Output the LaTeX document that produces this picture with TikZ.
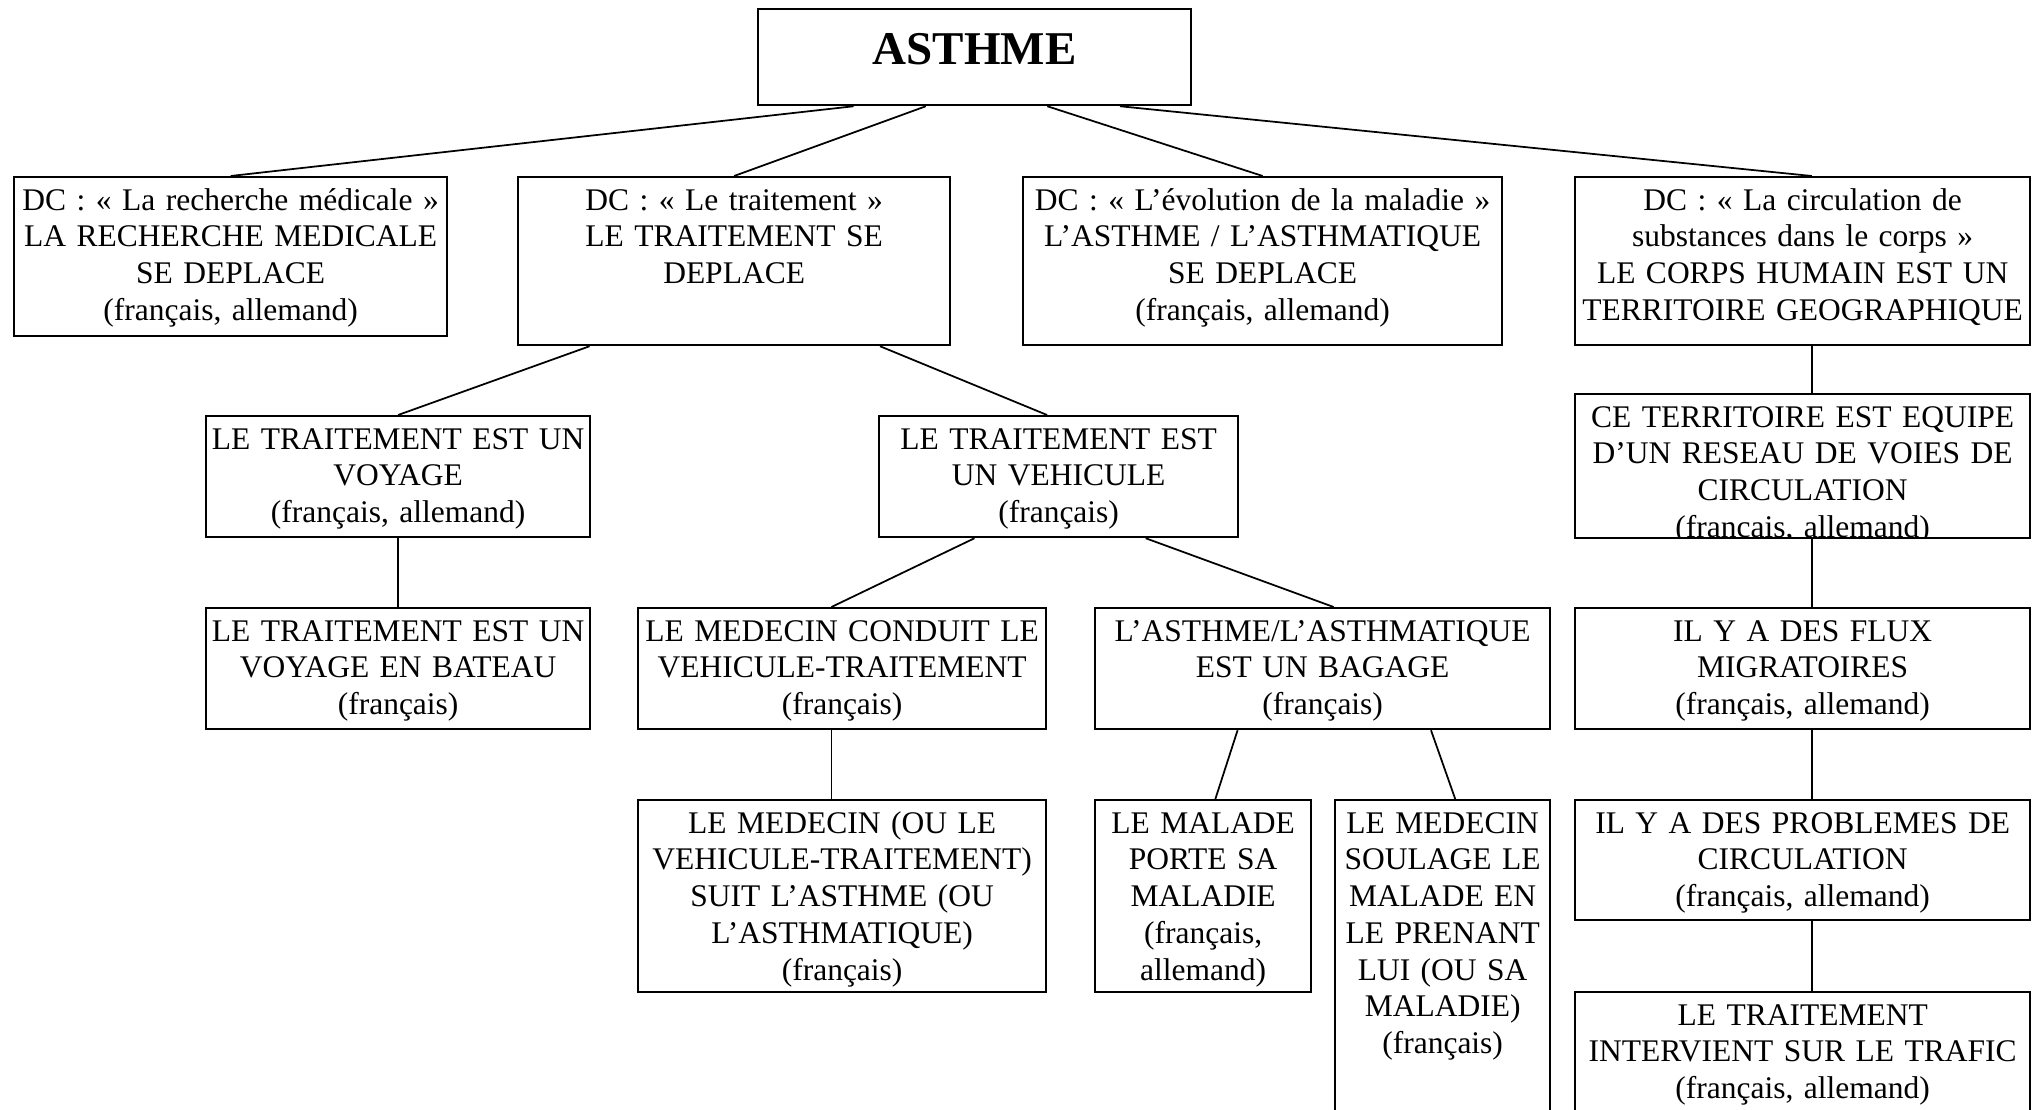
\documentclass[tikz,border=0pt]{standalone}
\usepackage{fontspec}
\setmainfont{Liberation Serif}
\usetikzlibrary{calc}

\tikzset{
  box/.style={draw=black, line width=0.9pt, anchor=north west, inner sep=0pt,
    align=center, text height=13.2pt, font=\fontsize{12.6}{14.7}\selectfont},
  link/.style={line width=0.7pt},
}

\begin{document}
\begin{tikzpicture}[x=0.4pt, y=-0.4pt]
  \useasboundingbox (0,0) rectangle (2040,1110);
  \clip (0,0) rectangle (2040,1110);
  \fill[white] (0,0) rectangle (2040,1110);

  % top
  \node (asthme) [box, text width=173.2pt, text height=22pt, text depth=16.4pt,
    font=\fontsize{18.8}{22}\selectfont\bfseries] at (757,8) {ASTHME};

  % domaines conceptuels
  \node (dcRech) [box, text width=173.2pt, text depth=50.4pt] at (13,176)
    {DC : « La recherche médicale »\\ LA RECHERCHE MEDICALE\\ SE DEPLACE\\ (français, allemand)};
  \node (dcTrait) [box, text width=172.8pt, text depth=54pt] at (517,176)
    {DC : « Le traitement »\\ LE TRAITEMENT SE\\ DEPLACE};
  \node (dcEvol) [box, text width=191.6pt, text depth=54pt] at (1022,176)
    {DC : « L’évolution de la maladie »\\ L’ASTHME / L’ASTHMATIQUE\\ SE DEPLACE\\ (français, allemand)};
  \node (dcCirc) [box, text width=182pt, text depth=54pt] at (1574,176)
    {DC : « La circulation de\\ substances dans le corps »\\ LE CORPS HUMAIN EST UN\\ TERRITOIRE~GEOGRAPHIQUE};

  % second level
  \node (voyage) [box, text width=153.6pt, text depth=35.2pt] at (205,415)
    {LE TRAITEMENT EST UN\\ VOYAGE\\ (français, allemand)};
  \node (vehicule) [box, text width=143.6pt, text depth=35.2pt] at (878,415)
    {LE TRAITEMENT EST\\ UN VEHICULE\\ (français)};
  \begin{scope}
    \clip (1570,390) rectangle (2034,538.5);
    \node (territoire) [box, text width=182pt, text depth=44.4pt] at (1574,393)
      {CE TERRITOIRE EST EQUIPE\\ D’UN RESEAU DE VOIES DE\\ CIRCULATION\\ (français, allemand)};
  \end{scope}

  % third level
  \node (bateau) [box, text width=153.6pt, text depth=35.2pt] at (205,607)
    {LE TRAITEMENT EST UN\\ VOYAGE EN BATEAU\\ (français)};
  \node (conduit) [box, text width=163.2pt, text depth=35.2pt] at (637,607)
    {LE MEDECIN CONDUIT LE\\ VEHICULE-TRAITEMENT\\ (français)};
  \node (bagage) [box, text width=182pt, text depth=35.2pt] at (1094,607)
    {L’ASTHME/L’ASTHMATIQUE\\ EST UN BAGAGE\\ (français)};
  \node (flux) [box, text width=182pt, text depth=35.2pt] at (1574,607)
    {IL Y A DES FLUX\\ MIGRATOIRES\\ (français, allemand)};

  % fourth level
  \node (suit) [box, text width=163.2pt, text depth=63.6pt] at (637,799)
    {LE MEDECIN (OU LE\\ VEHICULE-TRAITEMENT)\\ SUIT L’ASTHME (OU\\ L’ASTHMATIQUE)\\ (français)};
  \node (porte) [box, text width=86.4pt, text depth=63.6pt] at (1094,799)
    {LE MALADE\\ PORTE SA\\ MALADIE\\ (français,\\ allemand)};
  \node (soulage) [box, text width=86pt, text depth=119.2pt] at (1334,799)
    {LE MEDECIN\\ SOULAGE LE\\ MALADE EN\\ LE PRENANT\\ LUI (OU SA\\ MALADIE)\\ (français)};
  \node (problemes) [box, text width=182pt, text depth=34.8pt] at (1574,799)
    {IL Y A DES PROBLEMES DE\\ CIRCULATION\\ (français, allemand)};
  \node (trafic) [box, text width=182pt, text depth=42.4pt] at (1574,991)
    {LE TRAITEMENT\\ INTERVIENT SUR LE TRAFIC\\ (français, allemand)};

  % connectors
  \draw [link] ($(asthme.south west)!0.222!(asthme.south east)$) -- (dcRech.north);
  \draw [link] ($(asthme.south west)!0.388!(asthme.south east)$) -- (dcTrait.north);
  \draw [link] ($(asthme.south west)!0.667!(asthme.south east)$) -- (dcEvol.north);
  \draw [link] ($(asthme.south west)!0.834!(asthme.south east)$) -- ($(dcCirc.north west)!0.52!(dcCirc.north east)$);

  \draw [link] ($(dcTrait.south west)!0.167!(dcTrait.south east)$) -- (voyage.north);
  \draw [link] ($(dcTrait.south west)!0.836!(dcTrait.south east)$) -- ($(vehicule.north west)!0.468!(vehicule.north east)$);
  \draw [link] (voyage.south) -- (bateau.north);

  \draw [link] ($(vehicule.south west)!0.267!(vehicule.south east)$) -- ($(conduit.north west)!0.474!(conduit.north east)$);
  \draw [link] ($(vehicule.south west)!0.741!(vehicule.south east)$) -- ($(bagage.north west)!0.524!(bagage.north east)$);
  \draw [link] ($(conduit.south west)!0.474!(conduit.south east)$) -- ($(suit.north west)!0.474!(suit.north east)$);

  \draw [link] ($(bagage.south west)!0.314!(bagage.south east)$) -- ($(porte.north west)!0.556!(porte.north east)$);
  \draw [link] ($(bagage.south west)!0.737!(bagage.south east)$) -- ($(soulage.north west)!0.558!(soulage.north east)$);

  \draw [link] ($(dcCirc.south west)!0.52!(dcCirc.south east)$) -- ($(territoire.north west)!0.52!(territoire.north east)$);
  \draw [link] ($(territoire.south west)!0.52!(territoire.south east)$) -- ($(flux.north west)!0.52!(flux.north east)$);
  \draw [link] ($(flux.south west)!0.52!(flux.south east)$) -- ($(problemes.north west)!0.52!(problemes.north east)$);
  \draw [link] ($(problemes.south west)!0.52!(problemes.south east)$) -- ($(trafic.north west)!0.52!(trafic.north east)$);
\end{tikzpicture}
\end{document}
